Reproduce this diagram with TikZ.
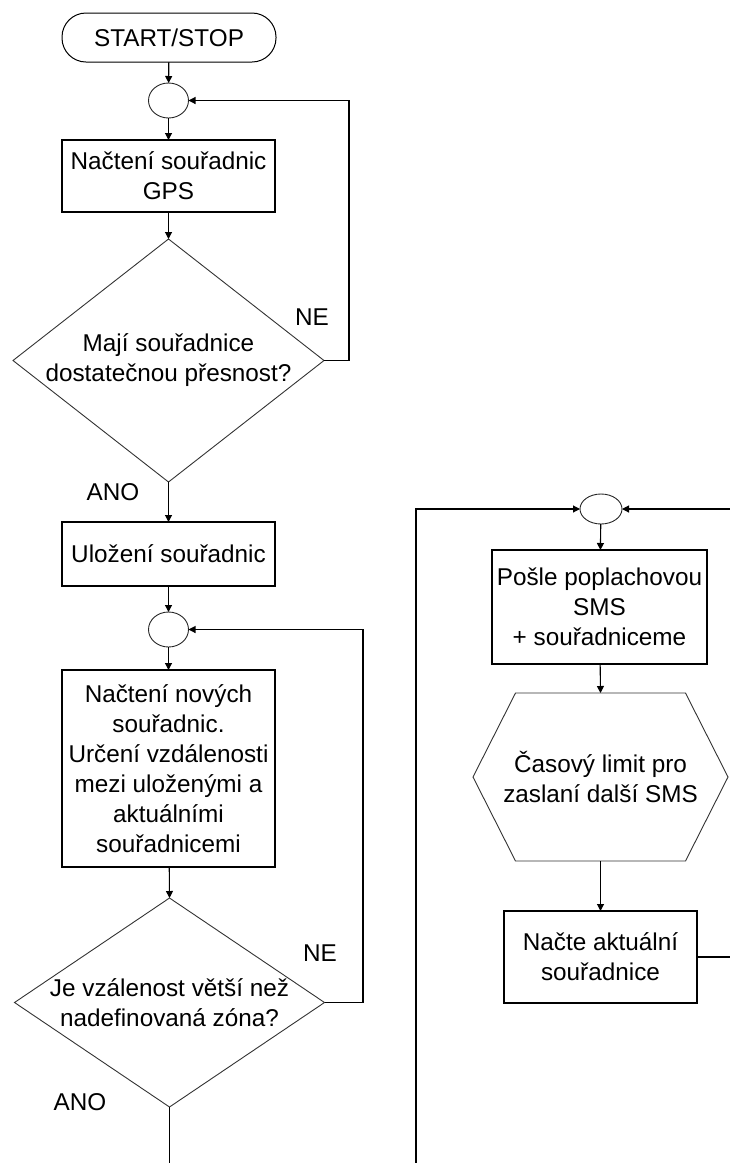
\documentclass[tikz,border=0pt]{standalone}
\usepackage{fontspec}
\setmainfont{Liberation Sans}
\usepackage{tikz}
\usetikzlibrary{arrows.meta,shapes.geometric,calc}
\tikzset{
	blok/.style={draw, line width=1.2pt, align=center, inner sep=2pt, outer sep=0pt},
	start/.style={draw, line width=1pt, rounded corners=24pt, minimum width=214pt, minimum height=49pt, outer sep=0pt},
	spoj/.style={draw, ellipse, line width=0.9pt, color=black!85, minimum width=40pt, minimum height=35pt, inner sep=0pt, outer sep=0pt},
	dotaz/.style={align=center, inner sep=0pt, outer sep=0pt},
	obrys/.style={line width=0.9pt, color=black!80},
	sipka/.style={line width=1.1pt, -{Triangle[length=7pt,width=7pt]}},
	cara/.style={line width=1.1pt},
}

\begin{document}
\begin{tikzpicture}[x=1pt, y=-1pt, font=\fontsize{24.3}{30}\selectfont]
		%%%%% START %%%%%
		\useasboundingbox (0,0) rectangle (730,1163);
		
		% levy sloupec
		\node[start] (stst) at (169,37.5) {START/STOP};
		\node[spoj] (k1) at (168.5,100.5) {};
		\node[blok, minimum width=213pt, minimum height=72pt] (gps) at (168.5,176) {Načtení souřadnic\\GPS};
		\node[dotaz, minimum width=311pt, minimum height=243pt] (presnost) at (168.5,360.5) {Mají souřadnice\\dostatečnou přesnost?};
		\draw[obrys] (presnost.north) -- (presnost.east) -- (presnost.south) -- (presnost.west) -- cycle;
		\node[blok, minimum width=213pt, minimum height=64pt] (ulozeni) at (168.5,554) {Uložení souřadnic};
		\node[spoj] (k2) at (168.5,629.5) {};
		\node[blok, minimum width=213pt, minimum height=197pt] (vzdal) at (168.5,768.5) {Načtení nových\\souřadnic.\\Určení vzdálenosti\\mezi uloženými a\\aktuálními\\souřadnicemi};
		\node[dotaz, minimum width=310pt, minimum height=209pt] (zona) at (169.5,1002.5) {Je vzálenost větší než\\nadefinovaná zóna?};
		\draw[obrys] (zona.north) -- (zona.east) -- (zona.south) -- (zona.west) -- cycle;
		
		\node (ne1) at (312,317) {NE};
		\node (ano1) at (113,492) {ANO};
		\node (ne2) at (320,953) {NE};
		\node (ano2) at (80,1102) {ANO};
		
		% pravy sloupec
		\node[spoj, minimum width=42pt, minimum height=30pt] (k3) at (601,509) {};
		\node[blok, minimum width=215pt, minimum height=114pt] (sms) at (599.5,607) {Pošle poplachovou\\SMS\\+ souřadniceme};
		\node[dotaz, minimum width=255pt, minimum height=168pt] (limit) at (600.5,777) {Časový limit pro\\zaslaní další SMS};
		\draw[obrys] (limit.west) -- ($(limit.north west)+(42.5,0)$) -- ($(limit.north east)+(-42.5,0)$) -- (limit.east) -- ($(limit.south east)+(-42.5,0)$) -- ($(limit.south west)+(42.5,0)$) -- cycle;
		\node[blok, minimum width=193pt, minimum height=92pt] (nacte) at (600.5,957) {Načte aktuální\\souřadnice};
		
		% spoje
		\coordinate (smycka1) at (349,100.5);
		\coordinate (smycka2) at (363,629.5);
		\coordinate (dole1) at (169.5,1163);
		\coordinate (dole2) at (416,1163);
		\coordinate (okraj1) at (730,509);
		\coordinate (okraj2) at (730,957);
		
		\draw[sipka] (stst) -- (k1);
		\draw[sipka] (k1) -- (gps);
		\draw[sipka] (gps) -- (presnost.north);
		\draw[sipka] (presnost.south) -- (ulozeni);
		\draw[sipka] (presnost.east) -| (smycka1) -- (k1.east);
		\draw[sipka] (ulozeni) -- (k2);
		\draw[sipka] (k2) -- (vzdal);
		\draw[sipka] (vzdal) -- (zona.north);
		\draw[sipka] (zona.east) -| (smycka2) -- (k2.east);
		\draw[cara] (zona.south) -- (dole1);
		
		\draw[sipka] (dole2) |- (k3.west);
		\draw[sipka] (okraj1) -- (k3.east);
		\draw[sipka] (k3) -- (sms);
		\draw[sipka] (sms) -- (limit.north);
		\draw[sipka] (limit.south) -- (nacte);
		\draw[cara] (nacte.east) -- (okraj2);
		%%%%% END %%%%%
\end{tikzpicture}
\end{document}
